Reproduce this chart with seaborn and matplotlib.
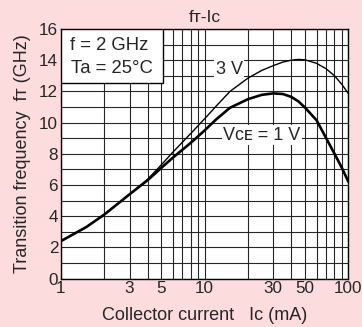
import numpy as np
import pandas as pd
import matplotlib
matplotlib.use("Agg")
import matplotlib.pyplot as plt
import seaborn as sns
from matplotlib.patches import Rectangle
from matplotlib.ticker import FixedLocator, NullFormatter

# ---------- data ----------
ic_ma = [1, 1.5, 2, 3, 4, 5, 6, 8, 10, 12, 15, 20, 25, 30, 35, 40, 45, 50,
         60, 70, 80, 90, 100]
ft_3v = [2.4, 3.3, 4.1, 5.4, 6.35, 7.3, 8.1, 9.3, 10.25, 11.05, 12.0, 12.85,
         13.35, 13.65, 13.88, 14.0, 14.05, 14.02, 13.8, 13.45, 13.0, 12.45, 11.85]
ft_1v = [2.4, 3.3, 4.1, 5.4, 6.3, 7.1, 7.75, 8.7, 9.5, 10.2, 10.95, 11.5,
         11.78, 11.87, 11.83, 11.65, 11.35, 10.95, 10.15, 9.0, 8.0, 7.1, 6.2]

x_ticks = [1, 3, 5, 10, 30, 50, 100]
x_grid = [1, 2, 3, 4, 5, 6, 7, 8, 9, 10, 20, 30, 40, 50, 60, 70, 80, 90, 100]
y_ticks = list(range(0, 17, 2))
y_grid = list(range(0, 17))

df = pd.DataFrame({
    "Ic": ic_ma * 2,
    "fT": ft_3v + ft_1v,
    "VCE": ["3 V"] * len(ic_ma) + ["1 V"] * len(ic_ma),
})

# ---------- style ----------
sns.set_style("white")
plt.rcParams["font.family"] = ["Liberation Sans", "DejaVu Sans"]
bg = "#fcdcdc"
grid_c = "#262626"

fig = plt.figure(figsize=(3.62, 3.27), dpi=100, facecolor=bg)
ax = fig.add_axes([0.1685, 0.1483, 0.794, 0.763])
ax.set_facecolor("white")

sns.lineplot(data=df[df.VCE == "3 V"], x="Ic", y="fT", ax=ax,
             color="black", linewidth=1.0, zorder=4)
sns.lineplot(data=df[df.VCE == "1 V"], x="Ic", y="fT", ax=ax,
             color="black", linewidth=1.9, zorder=4)

ax.set_xscale("log")
ax.set_xlim(1, 100)
ax.set_ylim(0, 16)

ax.xaxis.set_major_locator(FixedLocator(x_ticks))
ax.set_xticklabels([str(v) for v in x_ticks])
ax.xaxis.set_minor_locator(FixedLocator(x_grid))
ax.xaxis.set_minor_formatter(NullFormatter())
ax.yaxis.set_major_locator(FixedLocator(y_ticks))
ax.yaxis.set_minor_locator(FixedLocator(y_grid))
ax.tick_params(which="both", length=0, labelsize=12.3, pad=2)

ax.grid(which="both", color=grid_c, linewidth=0.8)
ax.set_axisbelow(True)
for s in ax.spines.values():
    s.set_color("black")
    s.set_linewidth(1.0)

# condition box
ax.add_patch(Rectangle((0, 0.784), 0.355, 0.216, transform=ax.transAxes,
                       facecolor="white", edgecolor="black", linewidth=1.0, zorder=5))
ax.text(0.03, 0.932, "f = 2 GHz", transform=ax.transAxes, fontsize=13.3,
        va="center", ha="left", zorder=6)
ax.text(0.035, 0.84, "Ta = 25°C", transform=ax.transAxes, fontsize=13.3,
        va="center", ha="left", zorder=6)

# curve labels
lbl_box = dict(facecolor="white", edgecolor="none", pad=1.0)
ax.text(14.8, 13.42, "3 V", fontsize=13, ha="center", va="center",
        bbox=lbl_box, zorder=5)
ax.text(24.9, 9.2, "Vᴄᴇ = 1 V", fontsize=13, ha="center", va="center",
        bbox=lbl_box, zorder=5)

ax.set_title("fᴛ-Iᴄ", fontsize=12.5, pad=5)
ax.set_xlabel("Collector current   Iᴄ (mA)", fontsize=13, labelpad=8)
ax.set_ylabel("Transition frequency  fᴛ (GHz)", fontsize=13, labelpad=5.5)

fig.savefig("out.png", dpi=100, facecolor=bg)
